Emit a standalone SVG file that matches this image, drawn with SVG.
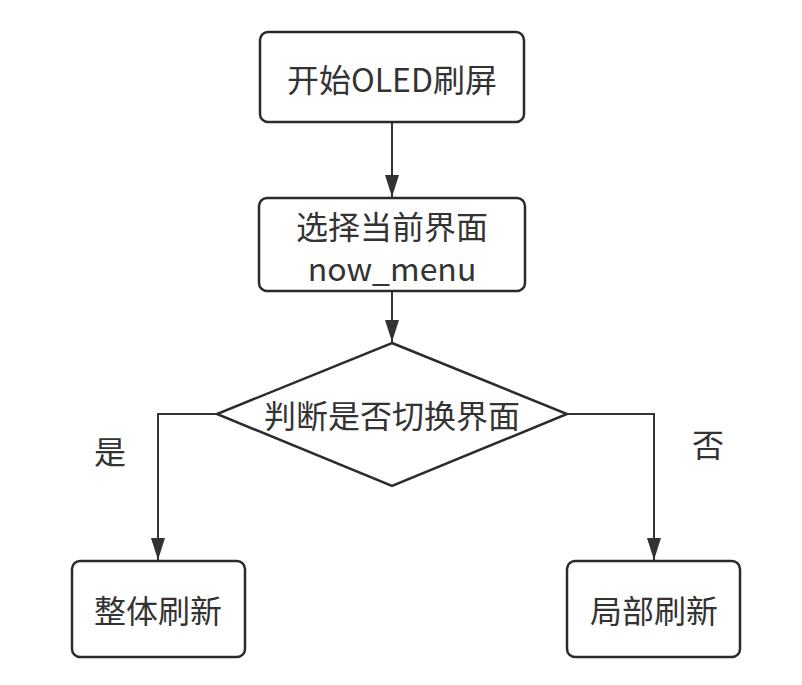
<svg xmlns="http://www.w3.org/2000/svg" width="802" height="685" viewBox="0 0 802 685">
<style>
.box{fill:#fff;stroke:#2b2b2b;stroke-width:2.5}
.t{font-family:"Noto Sans CJK SC","Noto Sans",sans-serif;font-size:32px;fill:#333;text-anchor:middle;dominant-baseline:central}
.c{fill:none;stroke:#333;stroke-width:2}
</style>
<defs>
<marker id="ah" markerWidth="22" markerHeight="14" refX="22" refY="7" orient="auto" markerUnits="userSpaceOnUse" viewBox="0 0 22 14">
<path d="M0,0 L22,7 L0,14 Z" fill="#333"/>
</marker>
</defs>
<rect width="802" height="685" fill="#fff"/>
<g id="connectors">
<path class="c" d="M392,122 V197" marker-end="url(#ah)"/>
<path class="c" d="M392,291 V342" marker-end="url(#ah)"/>
<path class="c" d="M217,414 H158 V560" marker-end="url(#ah)"/>
<path class="c" d="M567,414 H654 V560" marker-end="url(#ah)"/>
<text class="t" x="110" y="450" font-size="29">是</text>
<text class="t" x="708" y="443" font-size="29">否</text>
</g>
<g id="start">
<rect class="box" x="260" y="32" width="264" height="90" rx="8"/>
<text class="t" x="392" y="78">开始OLED刷屏</text>
</g>
<g id="select">
<rect class="box" x="259" y="198" width="266" height="93" rx="8"/>
<text class="t" x="392" y="225">选择当前界面</text>
<text class="t" x="392" y="267">now_menu</text>
</g>
<g id="decision">
<polygon class="box" points="392,343 567,414 392,486 217,414"/>
<text class="t" x="392" y="414">判断是否切换界面</text>
</g>
<g id="full">
<rect class="box" x="72" y="561" width="173" height="96" rx="8"/>
<text class="t" x="158" y="609">整体刷新</text>
</g>
<g id="partial">
<rect class="box" x="567" y="561" width="173" height="96" rx="8"/>
<text class="t" x="654" y="609">局部刷新</text>
</g>
</svg>
